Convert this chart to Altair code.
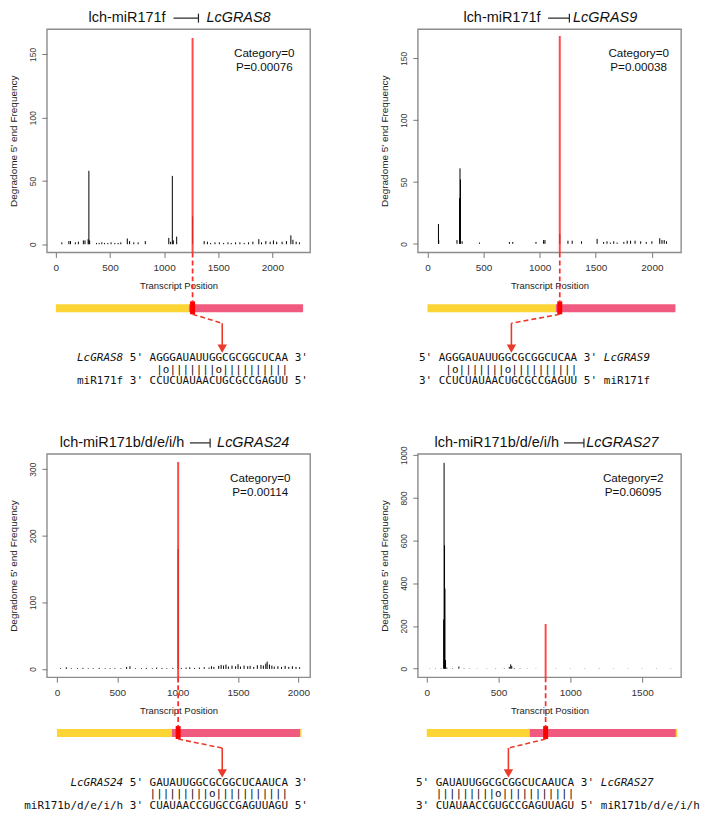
import altair as alt
import pandas as pd

# ---------------- data ----------------
TITLE_MIR = ["lch-miR171f", "lch-miR171f", "lch-miR171b/d/e/i/h", "lch-miR171b/d/e/i/h"]
TITLE_GENE = ["LcGRAS8", "LcGRAS9", "LcGRAS24", "LcGRAS27"]
CATEGORY = ["Category=0", "Category=0", "Category=0", "Category=2"]
PVALUE = ["P=0.00076", "P=0.00038", "P=0.00114", "P=0.06095"]

GENE_SEQ = ["AGGGAUAUUGGCGCGGCUCAA", "AGGGAUAUUGGCGCGGCUCAA",
            "GAUAUUGGCGCGGCUCAAUCA", "GAUAUUGGCGCGGCUCAAUCA"]
MIR_SEQ = ["CCUCUAUAACUGCGCCGAGUU", "CCUCUAUAACUGCGCCGAGUU",
           "CUAUAACCGUGCCGAGUUAGU", "CUAUAACCGUGCCGAGUUAGU"]
PAIRING = [" |o|||||||o||||||||||", " |o|||||||o||||||||||",
           "|||||||||o|||||||||||", "|||||||||o|||||||||||"]
MIR_LABEL = ["miR171f", "miR171f", "miR171b/d/e/i/h", "miR171b/d/e/i/h"]
LABEL_SIDE = ["left", "right", "left", "right"]

X_TICKS = [[0, 500, 1000, 1500, 2000], [0, 500, 1000, 1500, 2000],
           [0, 500, 1000, 1500, 2000], [0, 500, 1000, 1500]]
Y_TICKS = [[0, 50, 100, 150], [0, 50, 100, 150],
           [0, 50, 100, 150, 200, 250, 300], [0, 200, 400, 600, 800, 1000]]
X_DOMAIN = [[-83, 2349], [-86, 2260], [-83, 2097], [-62, 1771]]
Y_DOMAIN = [[-6.5, 170], [-7, 173.6], [-12.5, 323], [-40, 1006]]

# cleavage site (red line) position and height
CLEAVE = [1263, 1179, 1004, 828]
CLEAVE_FREQ = [163, 168, 310.7, 209.5]

# degradome tags (position, frequency)
P1_POS = [55, 120, 135, 180, 208, 254, 269, 298, 305, 312, 376, 400, 425, 450, 480, 510, 545, 575, 600,
          660, 681, 720, 760, 826, 1043, 1060, 1076, 1085, 1116, 1263, 1370, 1400, 1430, 1470, 1510,
          1550, 1590, 1620, 1660, 1700, 1740, 1780, 1820, 1875, 1900, 1940, 1980, 2010, 2040, 2090,
          2130, 2171, 2190, 2220, 2250]
P1_FREQ = [1.5, 2.5, 2.5, 1.5, 2, 3, 3, 4, 58, 3, 1, 1, 1.5, 1, 1, 1.5, 1, 1, 1.5,
           4.5, 2.5, 1.5, 1.5, 2.5, 5, 2, 54, 3, 6, 22, 2.5, 2, 1, 1.5, 1.5,
           1, 1.5, 1, 1.5, 1.5, 1, 1.5, 2, 4, 1.5, 2.5, 2, 3, 2, 2,
           2.5, 7, 3.5, 2, 1.5]
P2_POS = [98, 100, 263, 286, 290, 294, 309, 464, 730, 760, 967, 1035, 1047, 1179, 1252, 1290, 1373,
          1512, 1570, 1600, 1630, 1660, 1690, 1750, 1780, 1810, 1850, 1900, 1950, 2000, 2070, 2090,
          2110, 2130]
P2_FREQ = [16, 3, 3, 37, 61, 52, 2, 1, 1.5, 1.5, 1.5, 3, 3, 8, 2.5, 2.5, 2,
           4, 1.5, 2, 1, 2, 1, 1.5, 2.5, 2.5, 2.5, 2, 1.5, 2, 4.5, 3,
           3, 2]
P3_POS = [30, 78, 120, 170, 216, 260, 300, 350, 400, 440, 480, 530, 577, 605, 650, 700, 740, 790,
          826, 870, 910, 960, 1004, 1030, 1070, 1100, 1140, 1180, 1220, 1260, 1280, 1300, 1340, 1360,
          1380, 1400, 1420, 1450, 1480, 1500, 1520, 1550, 1580, 1600, 1630, 1660, 1690, 1710, 1730,
          1741, 1760, 1780, 1800, 1830, 1860, 1890, 1920, 1950, 1980, 2010]
P3_FREQ = [1, 2.5, 1, 1, 1.5, 1, 1, 1.5, 1, 1, 1, 1, 3, 4, 1, 1, 1.5, 1,
           2, 1.5, 1, 1.5, 180, 1.5, 2, 2.5, 1.5, 2, 2.5, 2, 4, 3, 4.5, 6,
           5, 6.5, 3.5, 5, 4, 7, 3.5, 5, 4, 4.5, 3, 5.5, 6, 5, 8,
           11, 6.5, 5, 3.5, 4, 3, 4.5, 3, 4, 3, 2.5]
P4_POS = [20, 60, 100, 118, 121, 124, 127, 131, 140, 180, 224, 260, 300, 350, 420, 480, 540, 575,
          585, 592, 610, 650, 700, 760, 900, 1000, 1100, 1200, 1300, 1400, 1500, 1600, 1700]
P4_FREQ = [1, 1.5, 2, 230, 964, 578, 375, 40, 5, 2, 10, 2, 1.5, 1, 1, 1.5, 2, 8,
           20, 12, 3, 2, 1, 1, 1, 1, 1, 1.5, 1, 1, 1, 1, 1]
POS = [P1_POS, P2_POS, P3_POS, P4_POS]
FREQ = [P1_FREQ, P2_FREQ, P3_FREQ, P4_FREQ]

# transcript diagram segments (start, end, colour)
YELLOW = "#fcd434"
PINK = "#ef5a7e"
SEG_START = [[0, 1229], [0, 1143], [0, 952, 2015], [0, 717, 1735]]
SEG_END = [[1229, 2284], [1143, 2210], [952, 2015, 2025], [717, 1735, 1745]]
SEG_COLOR = [[YELLOW, PINK], [YELLOW, PINK], [YELLOW, PINK, YELLOW], [YELLOW, PINK, YELLOW]]

# ---------------- layout ----------------
W = 264
HEIGHTS = [224, 224, 224, 224]
MONO = "DejaVu Sans Mono"
SANS = "Liberation Sans"
FS_MONO = 11
CW = 0.60205 * FS_MONO
SEQ_START = [103, 21, 103, 18]          # x of first nucleotide, px from box left
TITLE_X = [(119, 127, 152, 160), (123, 130.7, 152, 155.7),
           (137.7, 143.4, 163.7, 170.7), (141.6, 146.6, 166.6, 169)]
CAT_X = [218, 221.5, 214, 216]
RED = "#ff2a2a"
ARROW = "#ec3a2a"
INK = "#111111"


def text_layer(txt, x, y, align="left", font=MONO, size=FS_MONO, italic=False):
    df = pd.DataFrame({"t": [txt]})
    kw = dict(align=align, baseline="middle", font=font, fontSize=size, color=INK)
    if italic:
        kw["fontStyle"] = "italic"
    return alt.Chart(df).mark_text(**kw).encode(
        x=alt.value(x), y=alt.value(y), text="t:N")


def build_panel(i):
    H = HEIGHTS[i]
    xs = alt.Scale(domain=X_DOMAIN[i], nice=False, zero=False)
    ys = alt.Scale(domain=Y_DOMAIN[i], nice=False, zero=False)
    ymin = Y_DOMAIN[i][0]
    xt = "Transcript Position"
    yt = "Degradome 5' end Frequency"

    xaxis = alt.Axis(values=X_TICKS[i], title=xt, format="d", tickSize=5, labelPadding=5,
                     labelFontSize=10, labelFont=SANS, labelColor="#333333", tickColor="#777777",
                     titleFont=SANS, titleFontSize=9.5, titleFontWeight="normal",
                     titleColor="#222222", titlePadding=8, domain=False, grid=False,
                     labelFlush=False, labelOverlap=False)
    yaxis = alt.Axis(values=Y_TICKS[i], title=yt, format="d", tickSize=5, labelPadding=4,
                     labelFontSize=8.5, labelFont=SANS, labelAngle=270, labelAlign="center",
                     labelBaseline="bottom", labelColor="#333333", tickColor="#777777",
                     titleFont=SANS, titleFontSize=10, titleFontWeight="normal",
                     titleColor="#222222", titlePadding=10, domain=False, grid=False,
                     labelFlush=False, labelOverlap=False)

    freq_df = pd.DataFrame({"pos": POS[i], "freq": FREQ[i]})
    bars = alt.Chart(freq_df).mark_rule(color="black", strokeWidth=1).encode(
        x=alt.X("pos:Q", scale=xs, axis=xaxis, title=xt),
        y=alt.Y("freq:Q", scale=ys, axis=yaxis, title=yt),
        y2=alt.datum(0),
    )

    red_df = pd.DataFrame({"pos": [CLEAVE[i]], "freq": [CLEAVE_FREQ[i]]})
    red = alt.Chart(red_df).mark_rule(color=RED, strokeWidth=2, opacity=0.85).encode(
        x=alt.X("pos:Q", scale=xs, title=xt),
        y=alt.Y("freq:Q", scale=ys, title=yt),
        y2=alt.datum(ymin),
    )
    red_dash = alt.Chart(red_df).mark_rule(color=RED, strokeWidth=1.7, strokeDash=[5, 3]).encode(
        x=alt.X("pos:Q", scale=xs, title=xt),
        y=alt.value(H), y2=alt.value(H + 49),
    )

    seg_df = pd.DataFrame({"pos": SEG_START[i], "pos2": SEG_END[i], "col": SEG_COLOR[i]})
    segs = alt.Chart(seg_df).mark_rect().encode(
        x=alt.X("pos:Q", scale=xs, title=xt), x2="pos2:Q",
        y=alt.value(H + 52), y2=alt.value(H + 60),
        color=alt.Color("col:N", scale=None),
    )
    block = alt.Chart(red_df).mark_rule(color="#ff0000", strokeWidth=5).encode(
        x=alt.X("pos:Q", scale=xs, title=xt),
        y=alt.value(H + 49), y2=alt.value(H + 62),
    )

    s = SEQ_START[i]
    arrow_x = s + 11 * CW
    diag = alt.Chart(red_df).mark_rule(color=ARROW, strokeWidth=1.6, strokeDash=[5, 3]).encode(
        x=alt.X("pos:Q", scale=xs, title=xt), x2=alt.value(arrow_x),
        y=alt.value(H + 62), y2=alt.value(H + 71),
    )
    vert = alt.Chart(red_df).mark_rule(color=ARROW, strokeWidth=1.6).encode(
        x=alt.value(arrow_x), y=alt.value(H + 71), y2=alt.value(H + 96),
    )
    head = alt.Chart(red_df).mark_point(shape="triangle-down", filled=True, size=90,
                                        color=ARROW, opacity=1).encode(
        x=alt.value(arrow_x), y=alt.value(H + 96.5),
    )

    y1, yp, y3 = H + 106, H + 117.5, H + 129
    layers = [bars, red, red_dash, segs, block, diag, vert, head]
    if LABEL_SIDE[i] == "left":
        layers += [
            text_layer(TITLE_GENE[i], s - 4 * CW, y1, align="right", italic=True),
            text_layer("5' " + GENE_SEQ[i] + " 3'", s - 3 * CW, y1),
            text_layer(MIR_LABEL[i], s - 4 * CW, y3, align="right"),
            text_layer("3' " + MIR_SEQ[i] + " 5'", s - 3 * CW, y3),
        ]
    else:
        layers += [
            text_layer("5' " + GENE_SEQ[i] + " 3'", s - 3 * CW, y1),
            text_layer(TITLE_GENE[i], s + 25 * CW, y1, italic=True),
            text_layer("3' " + MIR_SEQ[i] + " 5'", s - 3 * CW, y3),
            text_layer(MIR_LABEL[i], s + 25 * CW, y3),
        ]
    pair = PAIRING[i]
    lead = len(pair) - len(pair.lstrip(" "))
    layers.append(text_layer(pair.strip(" "), s + lead * CW, yp))

    # title: miRNA  --|  gene
    m_end, a0, a1, g0 = TITLE_X[i]
    ty = -11
    layers += [
        text_layer(TITLE_MIR[i], m_end, ty, align="right", font=SANS, size=14.5),
        text_layer(TITLE_GENE[i], g0, ty, align="left", font=SANS, size=14.5, italic=True),
        alt.Chart(red_df).mark_rule(color="#222222", strokeWidth=1.2).encode(
            x=alt.value(a0), x2=alt.value(a1), y=alt.value(ty)),
        alt.Chart(red_df).mark_rule(color="#222222", strokeWidth=1.2).encode(
            x=alt.value(a1), y=alt.value(ty - 4.5), y2=alt.value(ty + 4.5)),
        text_layer(CATEGORY[i], CAT_X[i], 24, align="center", font=SANS, size=11.7),
        text_layer(PVALUE[i], CAT_X[i], 38, align="center", font=SANS, size=11.7),
    ]
    return alt.layer(*layers).properties(width=W, height=H)


row1 = alt.hconcat(build_panel(0), build_panel(1), spacing=68)
row2 = alt.hconcat(build_panel(2), build_panel(3), spacing=68)
chart = alt.vconcat(row1, row2, spacing=47).properties(
    padding={"left": 0, "top": 0, "right": 0, "bottom": 0},
    background="white",
).configure_view(stroke="#8c8c8c", strokeWidth=1.4)

chart.save("out.html", embed_options={"renderer": "svg", "actions": False})
